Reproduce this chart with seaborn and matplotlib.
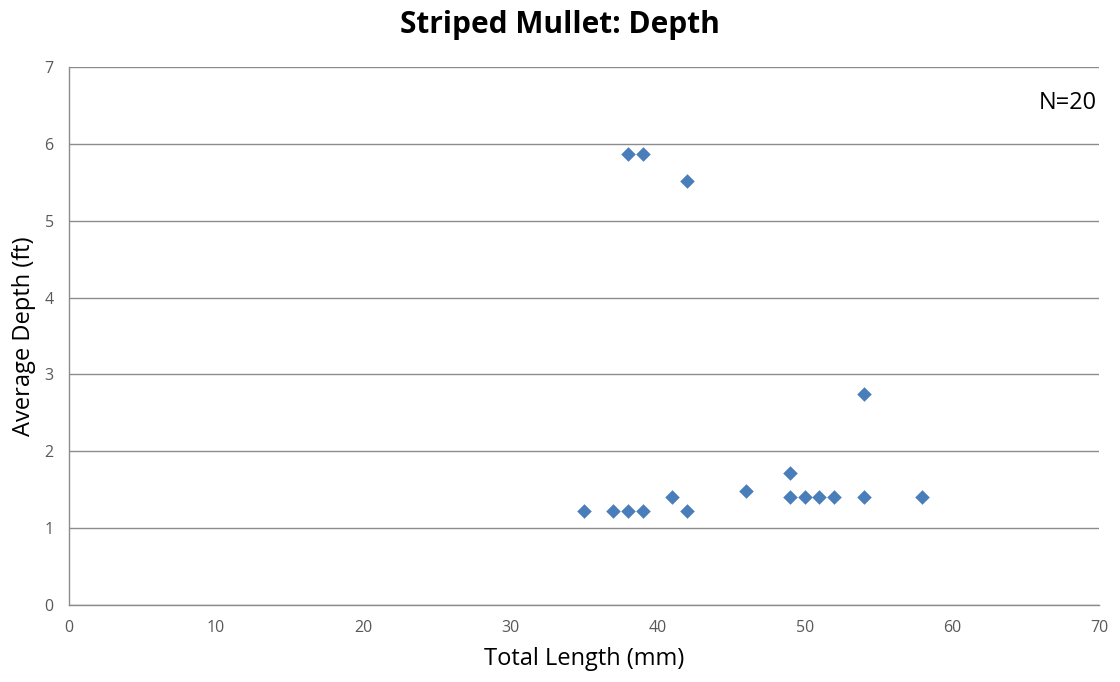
import matplotlib
matplotlib.use("Agg")
import matplotlib.pyplot as plt
import seaborn as sns
import pandas as pd

total_length = [35, 37, 38, 39, 41, 42, 46, 49, 49, 50, 51, 52, 54, 54, 58, 38, 39, 42]
avg_depth = [1.22, 1.22, 1.22, 1.22, 1.40, 1.22, 1.48, 1.72, 1.40, 1.40, 1.40, 1.40, 1.40, 2.74, 1.40, 5.87, 5.87, 5.52]
x_ticks = [0, 10, 20, 30, 40, 50, 60, 70]
y_ticks = [0, 1, 2, 3, 4, 5, 6, 7]

df = pd.DataFrame({"Total Length (mm)": total_length, "Average Depth (ft)": avg_depth})

sns.set_style("white")
plt.rcParams['font.family'] = ['Open Sans', 'DejaVu Sans']

fig = plt.figure(figsize=(11.2, 6.82), dpi=100)
ax = fig.add_axes([0.0616, 0.1129, 0.9196, 0.7889])

sns.scatterplot(data=df, x="Total Length (mm)", y="Average Depth (ft)", ax=ax,
                marker="D", s=55, color="#4a7ebb", edgecolor="#4a7ebb", linewidth=0, zorder=3)

ax.set_xlim(0, 70)
ax.set_ylim(0, 7)
ax.set_xticks(x_ticks)
ax.set_yticks(y_ticks)
ax.yaxis.grid(True, color="#8c8c8c", linewidth=1)
ax.xaxis.grid(False)
ax.set_axisbelow(True)
for s in ["top", "right"]:
    ax.spines[s].set_visible(False)
for s in ["left", "bottom"]:
    ax.spines[s].set_color("#8c8c8c")
    ax.spines[s].set_linewidth(1)
ax.tick_params(axis="both", colors="#8c8c8c", labelcolor="#595959", labelsize=11.5,
               length=5, width=1, direction="out")
ax.tick_params(axis="x", pad=6)
ax.tick_params(axis="y", pad=6)
ax.set_xlabel("Total Length (mm)", fontsize=17, color="black", labelpad=8)
ax.set_ylabel("Average Depth (ft)", fontsize=17, color="black", labelpad=6)
fig.suptitle("Striped Mullet: Depth", fontsize=21.5, fontweight="bold", color="black", y=0.985)
ax.text(0.998, 0.955, "N=20", transform=ax.transAxes, ha="right", va="top", fontsize=17, color="black")

fig.savefig("out.png", dpi=100)
